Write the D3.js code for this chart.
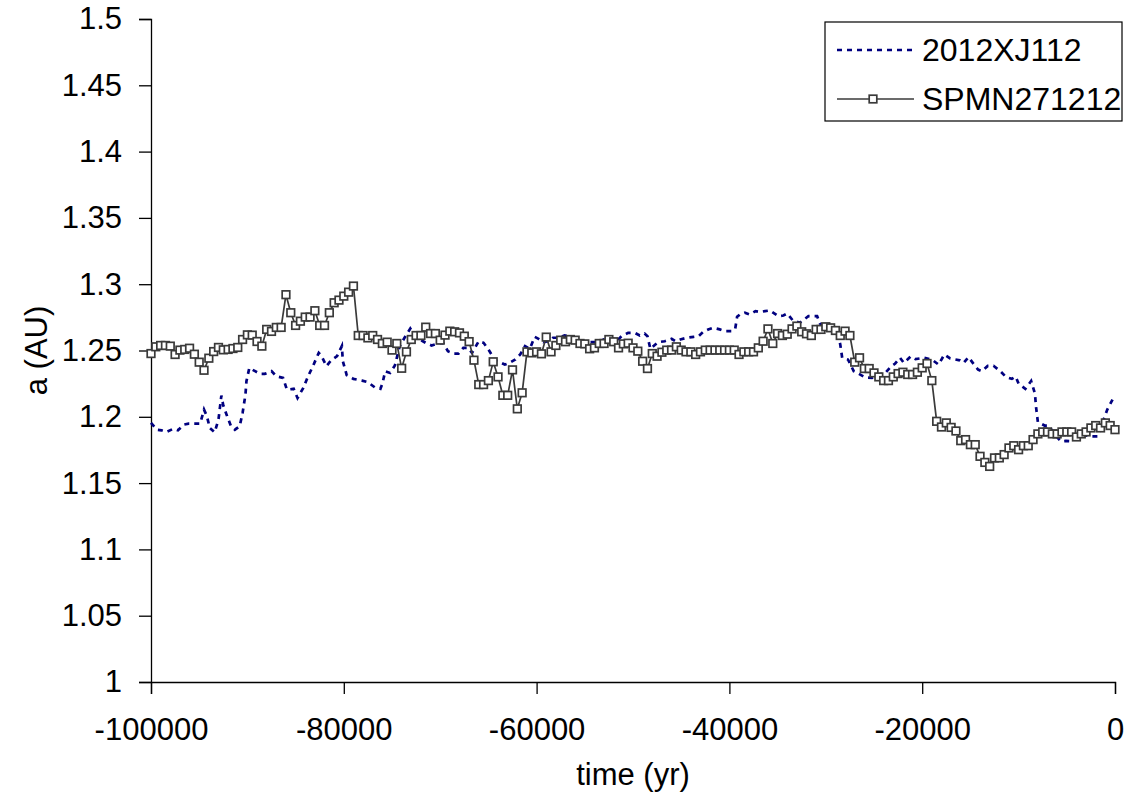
<!DOCTYPE html>
<html>
<head>
<meta charset="utf-8">
<script src="https://cdn.jsdelivr.net/npm/d3@7"></script>
<style>
  body { margin: 0; background: #fff; }
  text { font-family: "Liberation Sans", Arial, sans-serif; fill: #000; }
</style>
</head>
<body>
<script>
'use strict';

// SPMN271212: one value every 500 yr from -100000 to 0
var spmnStart = -100000;
var spmnStep = 500;
var spmnValues = [
  1.2477, 1.2528, 1.2538, 1.2538, 1.2533, 1.247, 1.2503, 1.2508, 1.2517, 1.2472,
  1.2412, 1.2351, 1.2442, 1.2492, 1.2523, 1.2505, 1.2508, 1.2515, 1.2523, 1.2583,
  1.2618, 1.2616, 1.2568, 1.2533, 1.2659, 1.2644, 1.2674, 1.2674, 1.2921, 1.2785,
  1.2689, 1.2721, 1.2752, 1.2752, 1.28, 1.2689, 1.2689, 1.2785, 1.286, 1.288,
  1.291, 1.294, 1.2986, 1.2613, 1.2613, 1.2595, 1.2613, 1.2583, 1.2553, 1.2563,
  1.2503, 1.2553, 1.2366, 1.249, 1.2583, 1.2613, 1.2613, 1.2676, 1.2628, 1.2628,
  1.2578, 1.2616, 1.2646, 1.2641, 1.2633, 1.2608, 1.2567, 1.2427, 1.2243, 1.2243,
  1.2273, 1.2415, 1.2301, 1.2162, 1.2162, 1.2354, 1.206, 1.2181, 1.249, 1.2482,
  1.249, 1.2475, 1.2601, 1.249, 1.2538, 1.2578, 1.2566, 1.2583, 1.2578, 1.2553,
  1.255, 1.2513, 1.252, 1.2553, 1.2553, 1.2583, 1.2566, 1.252, 1.255, 1.2555,
  1.252, 1.2495, 1.2419, 1.2364, 1.2477, 1.2457, 1.2487, 1.2503, 1.2503, 1.2528,
  1.2503, 1.249, 1.249, 1.247, 1.249, 1.2503, 1.2503, 1.2503, 1.2503, 1.2503,
  1.2503, 1.2503, 1.247, 1.249, 1.249, 1.249, 1.252, 1.257, 1.2663, 1.2553,
  1.2628, 1.2613, 1.2623, 1.2663, 1.2684, 1.2641, 1.2626, 1.2613, 1.2659, 1.2659,
  1.2679, 1.2671, 1.2651, 1.2613, 1.2646, 1.2613, 1.2412, 1.2445, 1.2364, 1.2364,
  1.2331, 1.2301, 1.2273, 1.2273, 1.2301, 1.2326, 1.2336, 1.2319, 1.2319, 1.2336,
  1.2369, 1.2402, 1.2273, 1.1966, 1.1923, 1.1954, 1.192, 1.1893, 1.182, 1.1828,
  1.179, 1.179, 1.1702, 1.1656, 1.1626, 1.169, 1.169, 1.1715, 1.1765, 1.1782,
  1.1752, 1.1782, 1.1782, 1.1828, 1.1871, 1.1886, 1.1886, 1.1871, 1.1871, 1.1886,
  1.1886, 1.1886, 1.1848, 1.1871, 1.1886, 1.1916, 1.1934, 1.1916, 1.1954, 1.1934, 1.1903
];

// 2012XJ112: points
var xjYears = [
  -100000, -99400, -98900, -98400, -97700, -97200, -96600, -96100, -95600, -94900,
  -94500, -94200, -93900, -93400, -93000, -92700, -92500, -92100, -91700, -91300,
  -90800, -90500, -90200, -90100, -89800, -89200, -88700, -88200, -87500, -87000,
  -86300, -85900, -85200, -84800, -84200, -83700, -83200, -82600, -82300, -81800,
  -81300, -80700, -80200, -80100, -79700, -79000, -78100, -77500, -76800, -76200,
  -76000, -75700, -75200, -74700, -74200, -73700, -73100, -72800, -72100, -71400,
  -70900, -70200, -69700, -69200, -68600, -68100, -67600, -67100, -66700, -66000,
  -65500, -65000, -64300, -63800, -63300, -62800, -62200, -61700, -61200, -60700,
  -60200, -59800, -59300, -58800, -58300, -57700, -57100, -56400, -55700, -55000,
  -54300, -53600, -52900, -52200, -51700, -51200, -50500, -49800, -49300, -48800,
  -48500, -48200, -47800, -47400, -46700, -46000, -45600, -45100, -44400, -43700,
  -43200, -42700, -42200, -41700, -41000, -40500, -39800, -39400, -39200, -38900,
  -38400, -37900, -37300, -36800, -36300, -35800, -34900, -34400, -34000, -33400,
  -32700, -31800, -30900, -30600, -29900, -29200, -28700, -28500, -28300, -27700,
  -27100, -26600, -25900, -25200, -24600, -23900, -23200, -22800, -22300, -21900,
  -21200, -20700, -19800, -19000, -18300, -17700, -17100, -16100, -15700, -15200,
  -14500, -14200, -13800, -13200, -12600, -11900, -11300, -10700, -10300, -10000,
  -9300, -8700, -8300, -8200, -8000, -7300, -6900, -6100, -5600, -5100,
  -4500, -3800, -3100, -2400, -1800, -1500, -800, -100
];
var xjValues = [
  1.1954, 1.1903, 1.1898, 1.1886, 1.1909, 1.1898, 1.1941, 1.1949, 1.1949, 1.1949,
  1.2054, 1.2004, 1.1916, 1.1883, 1.1979, 1.216, 1.2085, 1.2004, 1.1929, 1.1903,
  1.1929, 1.2029, 1.2168, 1.2268, 1.2369, 1.2344, 1.2324, 1.2324, 1.2344, 1.2306,
  1.2293, 1.2205, 1.2211, 1.2142, 1.2218, 1.2306, 1.2382, 1.2482, 1.2457, 1.2382,
  1.2427, 1.2457, 1.2533, 1.242, 1.2315, 1.2286, 1.2273, 1.2261, 1.2223, 1.2211,
  1.2249, 1.2344, 1.2331, 1.2387, 1.2533, 1.2596, 1.2666, 1.2633, 1.2583, 1.2553,
  1.2538, 1.2553, 1.2558, 1.2495, 1.2477, 1.2477, 1.252, 1.252, 1.2482, 1.257,
  1.2558, 1.2508, 1.2424, 1.2412, 1.2394, 1.2407, 1.2432, 1.247, 1.2533, 1.2513,
  1.2603, 1.2588, 1.2563, 1.257, 1.2596, 1.2596, 1.2613, 1.2603, 1.2578, 1.2563,
  1.2563, 1.2563, 1.2588, 1.2596, 1.257, 1.2608, 1.2633, 1.2633, 1.2613, 1.2628,
  1.2608, 1.2513, 1.2538, 1.2563, 1.257, 1.2588, 1.257, 1.2583, 1.2596, 1.2603,
  1.2608, 1.2641, 1.2659, 1.2671, 1.2659, 1.2646, 1.2646, 1.2663, 1.2754, 1.2772,
  1.2785, 1.2772, 1.2797, 1.279, 1.2797, 1.2802, 1.2759, 1.2764, 1.2779, 1.2725,
  1.2709, 1.2759, 1.2759, 1.2704, 1.2674, 1.265, 1.261, 1.2545, 1.2445, 1.2432,
  1.2344, 1.2325, 1.2297, 1.2293, 1.2319, 1.2326, 1.2382, 1.2402, 1.2445, 1.2407,
  1.2455, 1.2435, 1.2445, 1.2432, 1.2394, 1.247, 1.244, 1.2426, 1.2407, 1.245,
  1.2382, 1.2356, 1.2344, 1.2384, 1.2385, 1.2344, 1.23, 1.2286, 1.2303, 1.225,
  1.2211, 1.227, 1.2174, 1.208, 1.196, 1.1934, 1.1934, 1.1853, 1.1815, 1.1818,
  1.1815, 1.1853, 1.186, 1.1853, 1.1853, 1.1915, 1.2054, 1.2152
];

var yTicks = [1, 1.05, 1.1, 1.15, 1.2, 1.25, 1.3, 1.35, 1.4, 1.45, 1.5];
var xTicks = [-100000, -80000, -60000, -40000, -20000, 0];
var seriesNames = ['2012XJ112', 'SPMN271212'];

var width = 1134;
var height = 805;
var margin = { left: 151, top: 19, right: 19, bottom: 123 };

var svg = d3.select('body')
  .append('svg')
  .attr('width', width)
  .attr('height', height);

var x = d3.scaleLinear()
  .domain([-100000, 0])
  .range([margin.left, width - margin.right]);

var y = d3.scaleLinear()
  .domain([1, 1.5])
  .range([height - margin.bottom, margin.top]);

var spmn = spmnValues.map((v, i) => [spmnStart + i * spmnStep, v]);
var xj = xjValues.map((v, i) => [xjYears[i], v]);

var line = d3.line()
  .x((d) => x(d[0]))
  .y((d) => y(d[1]));

// axes
var yAxis = svg.append('g')
  .attr('transform', 'translate(' + margin.left + ',0)')
  .call(d3.axisLeft(y)
    .tickValues(yTicks)
    .tickSize(12)
    .tickPadding(17)
    .tickFormat((d) => String(+d.toFixed(2))));

var xAxis = svg.append('g')
  .attr('transform', 'translate(0,' + (height - margin.bottom) + ')')
  .call(d3.axisBottom(x)
    .tickValues(xTicks)
    .tickSize(12)
    .tickPadding(24)
    .tickFormat((d) => String(d)));

[yAxis, xAxis].forEach((a) => {
  a.select('.domain').attr('stroke', '#000').attr('stroke-width', 1.3);
  a.selectAll('.tick line').attr('stroke', '#000').attr('stroke-width', 1.3);
  a.selectAll('.tick text')
    .style('font-family', '"Liberation Sans", Arial, sans-serif')
    .style('font-size', '31px')
    .attr('fill', '#000');
});

// series
svg.append('path')
  .datum(xj)
  .attr('fill', 'none')
  .attr('stroke', '#000080')
  .attr('stroke-width', 2.7)
  .attr('stroke-dasharray', '5,5')
  .attr('d', line);

svg.append('path')
  .datum(spmn)
  .attr('fill', 'none')
  .attr('stroke', '#3a3a3a')
  .attr('stroke-width', 1.7)
  .attr('d', line);

svg.append('g')
  .selectAll('rect')
  .data(spmn)
  .enter()
  .append('rect')
  .attr('x', (d) => x(d[0]) - 3.8)
  .attr('y', (d) => y(d[1]) - 3.8)
  .attr('width', 7.6)
  .attr('height', 7.6)
  .attr('fill', '#fff')
  .attr('stroke', '#3a3a3a')
  .attr('stroke-width', 1.7);

// axis titles
svg.append('text')
  .attr('x', x(-50000))
  .attr('y', 785)
  .attr('text-anchor', 'middle')
  .style('font-size', '31px')
  .text('time (yr)');

svg.append('text')
  .attr('transform', 'translate(47,' + y(1.25) + ') rotate(-90)')
  .attr('text-anchor', 'middle')
  .style('font-size', '31px')
  .text('a (AU)');

// legend
var legend = svg.append('g');
legend.append('rect')
  .attr('x', 825)
  .attr('y', 22)
  .attr('width', 297)
  .attr('height', 99)
  .attr('fill', '#fff')
  .attr('stroke', '#000')
  .attr('stroke-width', 1.2);

legend.append('line')
  .attr('x1', 837).attr('x2', 914)
  .attr('y1', 50).attr('y2', 50)
  .attr('stroke', '#000080')
  .attr('stroke-width', 2.7)
  .attr('stroke-dasharray', '5,5');

legend.append('line')
  .attr('x1', 837).attr('x2', 914)
  .attr('y1', 99).attr('y2', 99)
  .attr('stroke', '#3a3a3a')
  .attr('stroke-width', 1.7);

legend.append('rect')
  .attr('x', 873 - 3.8).attr('y', 99 - 3.8)
  .attr('width', 7.6).attr('height', 7.6)
  .attr('fill', '#fff')
  .attr('stroke', '#3a3a3a')
  .attr('stroke-width', 1.7);

legend.selectAll('text.lab')
  .data(seriesNames)
  .enter()
  .append('text')
  .attr('class', 'lab')
  .attr('x', 922)
  .attr('y', (d, i) => 61 + i * 49)
  .style('font-size', '32px')
  .text((d) => d);
</script>
</body>
</html>
